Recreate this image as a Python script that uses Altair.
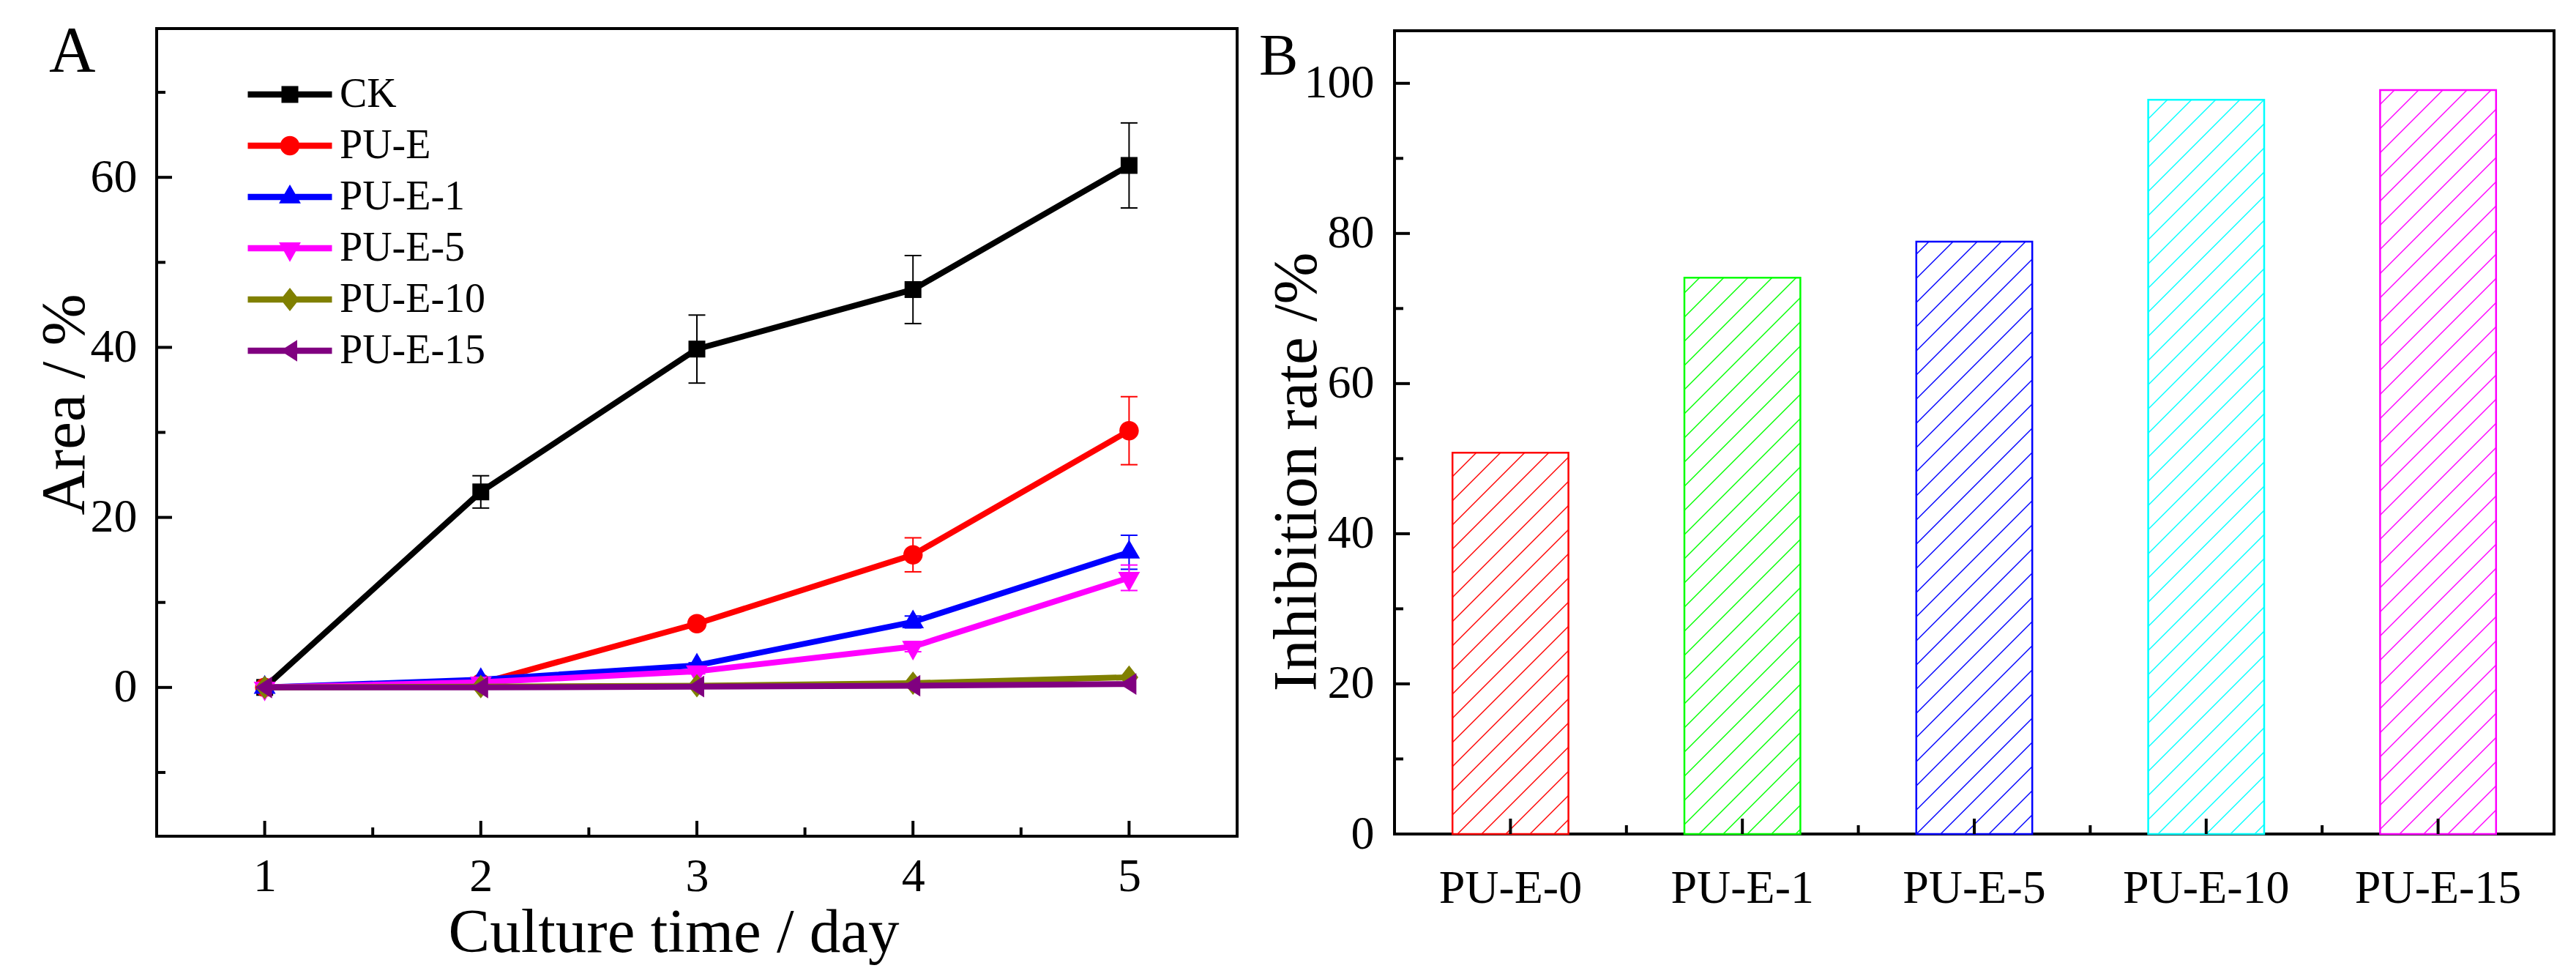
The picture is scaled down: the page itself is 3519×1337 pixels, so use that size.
import altair as alt
import pandas as pd

# ---------------- data ----------------
days = [1, 2, 3, 4, 5]
series_names = ["CK", "PU-E", "PU-E-1", "PU-E-5", "PU-E-10", "PU-E-15"]
series_colors = ["#000000", "#ff0000", "#0000ff", "#ff00ff", "#808000", "#800080"]
ck = [0.0, 23.0, 39.8, 46.8, 61.4]
pu_e = [0.0, 0.5, 7.5, 15.6, 30.2]
pu_e1 = [0.0, 0.9, 2.6, 7.7, 15.9]
pu_e5 = [0.0, 0.6, 1.9, 4.8, 12.9]
pu_e10 = [0.0, 0.1, 0.2, 0.5, 1.2]
pu_e15 = [0.0, 0.0, 0.1, 0.2, 0.4]
ck_err = [0.0, 1.9, 4.0, 4.0, 5.0]
pu_e_err = [0.0, 0.0, 0.4, 2.0, 4.0]
pu_e1_err = [0.0, 0.0, 0.3, 0.7, 2.0]
pu_e5_err = [0.0, 0.0, 0.3, 0.6, 1.5]
pu_e10_err = [0.0, 0.0, 0.0, 0.0, 0.0]
pu_e15_err = [0.0, 0.0, 0.0, 0.0, 0.0]

groups = ["PU-E-0", "PU-E-1", "PU-E-5", "PU-E-10", "PU-E-15"]
rates = [50.8, 74.1, 78.9, 97.8, 99.1]
bar_colors = ["#ff0000", "#00ff00", "#0000ff", "#00ffff", "#ff00ff"]

x_major = [1, 2, 3, 4, 5]
x_minor = [1.5, 2.5, 3.5, 4.5]
yA_major = [0, 20, 40, 60]
yA_minor = [-10, 10, 30, 50, 70]
yB_major = [0, 20, 40, 60, 80, 100]
yB_minor = [10, 30, 50, 70, 90]

# ---------------- styling ----------------
FONT = "Liberation Serif"
WA, HA = 1476, 1103
WB, HB = 1584, 1097
SPACING = 215
A_LEFT, A_TOP = 212, 37

marker_paths = [
    "M-1,-1L1,-1L1,1L-1,1Z",
    "M1.15,0A1.15,1.15,0,1,1,-1.15,0A1.15,1.15,0,1,1,1.15,0Z",
    "M0,-1.48L1.3,0.75L-1.3,0.75Z",
    "M-1.3,-0.69L1.3,-0.69L0,1.64Z",
    "M0,-1.4L1.1,0L0,1.4L-1.1,0Z",
    "M-1.13,0L0.87,-1.29L0.87,1.29Z",
]
line_path = "M-5,-0.36L5,-0.36L5,0.36L-5,0.36Z"
legend_paths = [line_path + p for p in marker_paths]

rows = []
for s, vals, errs in zip(series_names,
                         [ck, pu_e, pu_e1, pu_e5, pu_e10, pu_e15],
                         [ck_err, pu_e_err, pu_e1_err, pu_e5_err, pu_e10_err, pu_e15_err]):
    for d, v, e in zip(days, vals, errs):
        rows.append({"series": s, "day": d, "area": v, "lo": v - e, "hi": v + e, "err": e})
dfA = pd.DataFrame(rows)

x_scale = alt.Scale(domain=[0.5, 5.5], nice=False, zero=False)
yA_scale = alt.Scale(domain=[-17.5, 77.5], nice=False, zero=False)

x_axis = alt.Axis(values=x_major, ticks=False, tickSize=0, domain=False, grid=False,
                  labelPadding=23, title="Culture time / day", titleX=706, titleY=90,
                  titleBaseline="top", titleAlign="center")
yA_axis = alt.Axis(values=yA_major, ticks=False, tickSize=0, domain=False, grid=False,
                   labelPadding=27, title="Area / %", titleAngle=270, titleBaseline="bottom",
                   titleX=-82, titleY=513, titleAlign="center")

def XA(field):
    return alt.X(field, scale=x_scale, axis=x_axis)

def YA(field):
    return alt.Y(field, scale=yA_scale, axis=yA_axis)

base = alt.Chart(dfA)

series_layers = []
for s, c, p in zip(series_names, series_colors, marker_paths):
    sb = base.transform_filter(alt.datum.series == s)
    eb = sb.transform_filter(alt.datum.err > 0)
    series_layers.append(sb.mark_line(strokeWidth=8, color=c).encode(x=XA("day:Q"), y=YA("area:Q")))
    series_layers.append(eb.mark_rule(strokeWidth=2, color=c).encode(
        x=XA("day:Q"), y=YA("lo:Q"), y2="hi:Q"))
    for fld in ["hi:Q", "lo:Q"]:
        series_layers.append(eb.mark_rule(strokeWidth=2, color=c, xOffset=-11.5, x2Offset=11.5).encode(
            x=XA("day:Q"), x2=alt.X2("day:Q"), y=YA(fld)))
    series_layers.append(sb.mark_point(shape=p, filled=True, size=529, color=c, opacity=1,
                                       strokeWidth=0).encode(x=XA("day:Q"), y=YA("area:Q")))

leg = alt.Legend(orient="none", legendX=154, legendY=62, labelFont=FONT, labelFontSize=56,
                 labelColor="black", labelOffset=40, rowPadding=14, symbolOpacity=1,
                 symbolSize=529, symbolStrokeWidth=0, padding=0, labelLimit=0)
legend_layer = base.transform_filter(alt.datum.day == 1).mark_point(
    filled=True, opacity=0, size=529).encode(
    x=XA("day:Q"), y=YA("area:Q"),
    color=alt.Color("series:N", scale=alt.Scale(domain=series_names, range=series_colors),
                    legend=leg, title=None),
    shape=alt.Shape("series:N", scale=alt.Scale(domain=series_names, range=legend_paths),
                    legend=leg, title=None),
)

def vticks(vals, X, length, height):
    return alt.Chart(pd.DataFrame({"v": vals})).mark_rule(strokeWidth=4, color="black").encode(
        x=X, y=alt.value(height), y2=alt.value(height - length))

def hticks(vals, Y, length):
    return alt.Chart(pd.DataFrame({"v": vals})).mark_rule(strokeWidth=4, color="black").encode(
        y=Y, x=alt.value(0), x2=alt.value(length))

labelA = alt.Chart(pd.DataFrame({"t": ["A"]})).mark_text(
    align="left", baseline="alphabetic", font=FONT, fontSize=88, color="black").encode(
    text="t:N", x=alt.value(-147), y=alt.value(58))

anchor = alt.Chart(pd.DataFrame({"t": [0]})).mark_rule(strokeWidth=1, opacity=0).encode(
    x=alt.value(8.5 - A_LEFT), x2=alt.value(9 - A_LEFT),
    y=alt.value(8.5 - A_TOP), y2=alt.value(8.5 - A_TOP))

chartA = alt.layer(
    vticks(x_major, XA("v:Q"), 21, HA), vticks(x_minor, XA("v:Q"), 12, HA),
    hticks(yA_major, YA("v:Q"), 21), hticks(yA_minor, YA("v:Q"), 12),
    *series_layers, legend_layer, labelA, anchor,
).properties(width=WA, height=HA)

# ---------------- panel B ----------------
dfB = pd.DataFrame({"group": groups, "rate": rates})
xb_scale = alt.Scale(domain=groups, paddingInner=0.5, paddingOuter=0.25)
yb_scale = alt.Scale(domain=[0, 107], nice=False, zero=False)
xb_axis = alt.Axis(ticks=False, tickSize=0, domain=False, grid=False, labelAngle=0,
                   labelPadding=42, labelLimit=1000, title="")
yb_axis = alt.Axis(values=yB_major, ticks=False, tickSize=0, domain=False, grid=False,
                   labelPadding=28, title="Inhibition rate /%", titleAngle=270,
                   titleBaseline="bottom", titleX=-90, titleY=602, titleAlign="center")

def XB(field):
    return alt.X(field, scale=xb_scale, axis=xb_axis)

def YB(field):
    return alt.Y(field, scale=yb_scale, axis=yb_axis)

px_per = HB / 107.0
step = WB / 5.0
bw = step * 0.5
oxB = A_LEFT + WA + SPACING
oyB = A_TOP + (HA - HB) / 2.0
PERIOD = 33.0

bar_layers = []
for i, (g, v, c) in enumerate(zip(groups, rates, bar_colors)):
    h = v * px_per
    w = bw
    X0 = oxB + step * 0.25 + i * step
    Y0 = oyB + HB - h
    S = w + h
    pos = (24.0 - (X0 + Y0)) % PERIOD
    stops = [{"offset": 0, "color": "#ffffff"}]
    while pos < S + 2:
        for off, col in [(pos - 1.6, "#ffffff"), (pos - 0.4, c), (pos + 0.4, c), (pos + 1.6, "#ffffff")]:
            o = min(max(off / S, 0.0), 1.0)
            stops.append({"offset": round(o, 6), "color": col})
        pos += PERIOD
    stops.append({"offset": 1, "color": "#ffffff"})
    denom = w * w + h * h
    grad = {"gradient": "linear", "x1": 0, "y1": 0,
            "x2": round(w * S / denom, 6), "y2": round(h * S / denom, 6), "stops": stops}
    bar_layers.append(
        alt.Chart(dfB).transform_filter(alt.datum.group == g)
        .mark_bar(fill=grad, stroke=c, strokeWidth=2.5)
        .encode(x=XB("group:N"), y=YB("rate:Q"))
    )

xb_major = alt.Chart(pd.DataFrame({"group": groups})).mark_rule(strokeWidth=4, color="black").encode(
    x=XB("group:N"), y=alt.value(HB), y2=alt.value(HB - 21))
xb_minor = alt.Chart(pd.DataFrame({"group": groups[:4]})).mark_rule(
    strokeWidth=4, color="black", xOffset=step / 2).encode(
    x=XB("group:N"), y=alt.value(HB), y2=alt.value(HB - 12))

labelB = alt.Chart(pd.DataFrame({"t": ["B"]})).mark_text(
    align="left", baseline="alphabetic", font=FONT, fontSize=80, color="black").encode(
    text="t:N", x=alt.value(1718 - oxB), y=alt.value(100 - oyB))

chartB = alt.layer(
    *bar_layers, xb_major, xb_minor,
    hticks(yB_major, YB("v:Q"), 21), hticks(yB_minor, YB("v:Q"), 12), labelB,
).properties(width=WB, height=HB)

chart = alt.hconcat(chartA, chartB, spacing=SPACING, bounds="flush", center=True).properties(
    padding=0, background="white"
).configure_view(stroke="black", strokeWidth=4).configure_axis(
    labelFont=FONT, labelFontSize=64, labelColor="black", labelLimit=1000,
    titleFont=FONT, titleFontSize=85, titleFontWeight="normal", titleColor="black",
).configure_legend(
    labelFont=FONT, labelFontSize=56, labelColor="black", labelLimit=0,
    symbolSize=529, symbolStrokeWidth=0, rowPadding=14, padding=0,
)

chart.save("out.html", embed_options={"renderer": "svg", "actions": False})
